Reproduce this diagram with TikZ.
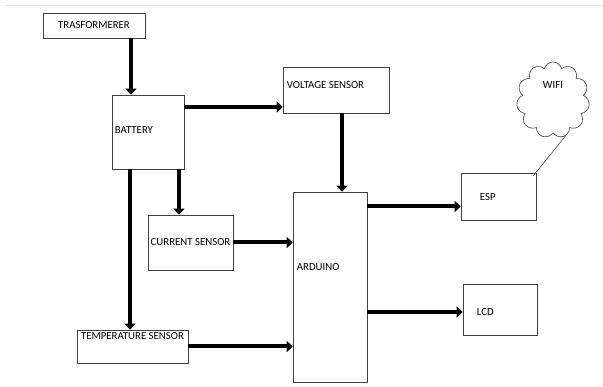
\documentclass[tikz,border=0pt]{standalone}
\usepackage{fontspec}
\setmainfont{Carlito}
\usetikzlibrary{arrows.meta,shapes.symbols}

\begin{document}
\begin{tikzpicture}[x=1pt,y=-1pt,
		font=\fontsize{10.8}{13}\selectfont,
		blok/.style={draw=black!75, line width=0.6pt, inner sep=0pt},
		tag/.style={inner sep=0pt},
		arr/.style={line width=4pt, -{Triangle[length=6pt,width=11pt]}}]
		\useasboundingbox (0,0) rectangle (603,387);
		\draw[black!10] (5,5) -- (603,5); % page edge
		
		\node[blok, minimum width=102, minimum height=25] (trans) at (94,25.5) {TRASFORMERER};
		\node[blok, minimum width=72, minimum height=74,
			label={[tag, anchor=west, xshift=3pt, yshift=2pt]west:BATTERY}] (bat) at (148,132) {};
		\node[blok, minimum width=106, minimum height=46,
			label={[tag, anchor=west, xshift=4pt, yshift=5pt]west:VOLTAGE SENSOR}] (volt) at (336,90) {};
		\node[blok, minimum width=85, minimum height=55] (cur) at (190.5,242.5) {CURRENT SENSOR};
		\node[blok, minimum width=111, minimum height=33,
			label={[tag, anchor=north, yshift=-3pt]north:TEMPERATURE SENSOR}] (temp) at (132.5,346.5) {};
		\node[blok, minimum width=74, minimum height=190,
			label={[tag, anchor=west, xshift=4pt, yshift=20pt]west:ARDUINO}] (ard) at (330,287) {};
		\node[blok, minimum width=75, minimum height=47,
			label={[tag, anchor=west, xshift=19pt, yshift=-1pt]west:ESP}] (esp) at (498.5,196.5) {};
		\node[blok, minimum width=74, minimum height=51,
			label={[tag, anchor=west, xshift=14pt, yshift=-3pt]west:LCD}] (lcd) at (500,309.5) {};
		\node[cloud, draw=black!75, line width=0.6pt, cloud puffs=11, aspect=0.9,
			minimum width=73, minimum height=76,
			label={[tag, yshift=-27pt]north:WIFI}] (wifi) at (553,100) {};
		
		% power side
		\draw[arr] ([xshift=37pt]trans.south) -- ([xshift=37pt]trans.south |- bat.north);
		\draw[arr] ([yshift=25pt]bat.east) -- ([yshift=25pt]bat.east -| volt.west);
		\draw[arr] ([xshift=31pt]bat.south) -- ([xshift=31pt]bat.south |- cur.north);
		\draw[arr] ([xshift=-18pt]bat.south) -- ([xshift=-18pt]bat.south |- temp.north);
		
		% sensors to arduino
		\draw[arr] ([xshift=6pt]volt.south) -- ([xshift=6pt]volt.south |- ard.north);
		\draw[arr] (cur.east) -- (cur.east -| ard.west);
		\draw[arr] (temp.east) -- (temp.east -| ard.west);
		
		% outputs
		\draw[arr] ([yshift=-10pt]esp.west -| ard.east) -- ([yshift=-10pt]esp.west);
		\draw[arr] ([yshift=-2.5pt]lcd.west -| ard.east) -- ([yshift=-2.5pt]lcd.west);
		\draw[black!70, line width=0.6pt] (wifi.-70) -- ([xshift=-3pt,yshift=-3pt]esp.north east);
		
\end{tikzpicture}
\end{document}
